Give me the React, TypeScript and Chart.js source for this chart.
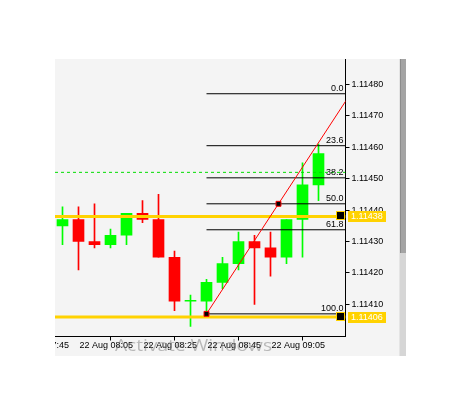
import React, { useEffect, useRef } from "react";
import { Chart, registerables } from "chart.js";

Chart.register(...registerables);

// ---- data ----
const candleIndex = [0, 1, 2, 3, 4, 5, 6, 7, 8, 9, 10, 11, 12, 13, 14, 15, 16];
const opens = [1.11435, 1.11437, 1.1143, 1.11429, 1.11432, 1.11439, 1.11437, 1.11425, 1.11411, 1.11411, 1.11417, 1.11423, 1.1143, 1.11428, 1.11425, 1.11437, 1.11448];
const highs = [1.11441, 1.11441, 1.11442, 1.11434, 1.11439, 1.11443, 1.11445, 1.11427, 1.11413, 1.11418, 1.11425, 1.11433, 1.11432, 1.11433, 1.11437, 1.11455, 1.11461];
const lows = [1.11429, 1.11421, 1.11428, 1.11428, 1.11429, 1.11436, 1.11425, 1.11408, 1.11403, 1.11407, 1.11415, 1.11421, 1.1141, 1.11419, 1.11423, 1.11425, 1.11443];
const closes = [1.11437, 1.1143, 1.11429, 1.11432, 1.11439, 1.11437, 1.11425, 1.11411, 1.11411, 1.11417, 1.11423, 1.1143, 1.11428, 1.11425, 1.11437, 1.11448, 1.11458];

const timeTickIndex = [-3, 1, 5, 9, 13];
const timeTickLabels = ["22 Aug 07:45", "22 Aug 08:05", "22 Aug 08:25", "22 Aug 08:45", "22 Aug 09:05"];
const priceTicks = [1.1141, 1.1142, 1.1143, 1.1144, 1.1145, 1.1146, 1.1147, 1.1148];

const fibLowIndex = 9;
const fibHighIndex = 18;
const fibLowPrice = 1.11407;
const fibHighPrice = 1.11477;
const fibLevels = [0.0, 23.6, 38.2, 50.0, 61.8, 100.0];

const yellowLevels = [1.11438, 1.11406];
const yellowLabels = ["1.11438", "1.11406"];
const greenDashedLevel = 1.11452;

// ---- layout constants ----
const X_MIN = -0.46875;
const X_MAX = 17.6875;
const Y_MIN = 1.113998;
const Y_MAX = 1.1148805;

const GREEN = "#00ff00";
const RED = "#ff0000";
const GOLD = "#ffd200";

export default function App() {
  const ref = useRef<HTMLCanvasElement | null>(null);

  useEffect(() => {
    document.body.style.margin = "0";
    const canvas = ref.current;
    if (!canvas) return;

    const colors = candleIndex.map((_, i) => (closes[i] >= opens[i] ? GREEN : RED));
    const fibPrice = (lvl: number) => fibHighPrice - (lvl / 100) * (fibHighPrice - fibLowPrice);

    const datasets: any[] = [];

    // horizontal objects (on top)
    yellowLevels.forEach((p) => {
      datasets.push({
        type: "line",
        data: [{ x: X_MIN, y: p }, { x: X_MAX, y: p }],
        borderColor: GOLD,
        borderWidth: 3,
        pointRadius: 0,
        clip: 0,
        order: 1,
      });
    });
    datasets.push({
      type: "line",
      data: [{ x: X_MIN, y: greenDashedLevel }, { x: X_MAX, y: greenDashedLevel }],
      borderColor: "#00dd00",
      borderWidth: 1,
      borderDash: [3, 3],
      pointRadius: 0,
      clip: 0,
      order: 1,
    });
    fibLevels.forEach((lvl) => {
      datasets.push({
        type: "line",
        data: [{ x: fibLowIndex, y: fibPrice(lvl) }, { x: fibHighIndex, y: fibPrice(lvl) }],
        borderColor: "#000000",
        borderWidth: 1,
        pointRadius: 0,
        clip: 0,
        order: 1,
      });
    });
    datasets.push({
      type: "line",
      data: [
        { x: fibLowIndex, y: fibLowPrice },
        { x: (fibLowIndex + fibHighIndex) / 2, y: (fibLowPrice + fibHighPrice) / 2 },
        { x: fibHighIndex, y: fibHighPrice },
      ],
      borderColor: RED,
      borderWidth: 1,
      pointRadius: [3.5, 3.5, 0],
      pointStyle: "rect",
      pointBackgroundColor: "#000000",
      pointBorderColor: RED,
      pointBorderWidth: 1,
      clip: 0,
      order: 0,
    });

    // candles
    datasets.push({
      type: "bar",
      data: candleIndex.map((x, i) => ({ x, y: [opens[i], closes[i]] })),
      backgroundColor: colors,
      borderWidth: 0,
      barThickness: 11,
      minBarLength: 1,
      grouped: false,
      order: 5,
    });
    datasets.push({
      type: "bar",
      data: candleIndex.map((x, i) => ({ x, y: [lows[i], highs[i]] })),
      backgroundColor: colors,
      borderWidth: 0,
      barThickness: 1,
      grouped: false,
      order: 6,
    });

    const bgPlugin = {
      id: "bg",
      beforeDraw(chart: any) {
        const ctx = chart.ctx;
        ctx.save();
        ctx.fillStyle = "#ffffff";
        ctx.fillRect(0, 0, chart.width, chart.height);
        ctx.fillStyle = "#f4f4f4";
        ctx.fillRect(55, 59, 344, 297);
        // scrollbar
        ctx.fillStyle = "#e4e4e4";
        ctx.fillRect(399, 59, 7, 297);
        ctx.fillStyle = "#a4a4a4";
        ctx.fillRect(400, 59, 6, 194);
        ctx.fillStyle = "#8c8c8c";
        ctx.fillRect(400, 59, 1, 194);
        ctx.fillStyle = "#d6d6d6";
        ctx.fillRect(400, 253, 6, 103);
        ctx.restore();
      },
    };

    const overlayPlugin = {
      id: "overlay",
      afterDraw(chart: any) {
        const ctx = chart.ctx;
        const area = chart.chartArea;
        const ys = chart.scales.y;
        ctx.save();
        // hide the part of the first time label that lies left of the plot
        ctx.fillStyle = "#ffffff";
        ctx.fillRect(0, area.bottom - 0.5, 55, 30);

        // fib labels
        ctx.fillStyle = "#000000";
        ctx.font = "9px 'Liberation Sans', Arial, sans-serif";
        ctx.textAlign = "right";
        ctx.textBaseline = "alphabetic";
        fibLevels.forEach((lvl) => {
          const y = ys.getPixelForValue(fibHighPrice - (lvl / 100) * (fibHighPrice - fibLowPrice));
          ctx.fillText(lvl.toFixed(1), area.right - 2, y - 3);
        });

        // price boxes for yellow lines
        yellowLevels.forEach((p, k) => {
          const y = Math.round(ys.getPixelForValue(p));
          ctx.fillStyle = GOLD;
          ctx.fillRect(336, y - 5, 9, 9);
          ctx.fillStyle = "#000000";
          ctx.fillRect(337, y - 4, 7, 7);
          ctx.fillStyle = GOLD;
          ctx.fillRect(348, y - 5, 38, 11);
          ctx.fillStyle = "#ffffff";
          ctx.textAlign = "left";
          ctx.textBaseline = "middle";
          ctx.fillText(yellowLabels[k], 351, y + 0.5);
        });

        // watermark
        ctx.fillStyle = "rgba(110,110,110,0.45)";
        ctx.font = "16px 'Open Sans', 'Noto Sans', sans-serif";
        ctx.textAlign = "left";
        ctx.textBaseline = "alphabetic";
        const wm = "Activate Windows";
        const w = ctx.measureText(wm).width;
        ctx.translate(115, 351);
        ctx.scale(157 / w, 1);
        ctx.fillText(wm, 0, 0);
        ctx.restore();
      },
    };

    const chart = new Chart(canvas, {
      type: "bar",
      data: { datasets },
      options: {
        responsive: false,
        maintainAspectRatio: false,
        animation: false,
        events: [],
        layout: { padding: { left: 55, top: 59, right: 69.5, bottom: 51.5 } },
        plugins: { legend: { display: false }, tooltip: { enabled: false } },
        scales: {
          x: {
            type: "linear",
            min: X_MIN,
            max: X_MAX,
            offset: false,
            afterFit(scale: any) {
              scale.height = 20;
            },
            afterBuildTicks(scale: any) {
              scale.ticks = timeTickIndex.map((v) => ({ value: v }));
            },
            grid: { display: true, drawOnChartArea: false, drawTicks: true, tickLength: 4, color: "#000000" },
            border: { display: true, color: "#000000", width: 1 },
            ticks: {
              autoSkip: false,
              maxRotation: 0,
              align: "start",
              labelOffset: 1,
              padding: 0,
              color: "#000000",
              font: { family: "'Liberation Sans', Arial, sans-serif", size: 9 },
              callback: (_v: any, idx: number) => timeTickLabels[idx],
            },
          },
          y: {
            type: "linear",
            position: "right",
            min: Y_MIN,
            max: Y_MAX,
            afterFit(scale: any) {
              scale.width = 54;
            },
            afterBuildTicks(scale: any) {
              scale.ticks = priceTicks.map((v) => ({ value: v }));
            },
            grid: { display: true, drawOnChartArea: false, drawTicks: true, tickLength: 4, color: "#000000" },
            border: { display: true, color: "#000000", width: 1 },
            ticks: {
              padding: 2,
              color: "#000000",
              font: { family: "'Liberation Sans', Arial, sans-serif", size: 9 },
              callback: (v: any) => Number(v).toFixed(5),
            },
          },
        },
      },
      plugins: [bgPlugin, overlayPlugin],
    } as any);

    return () => chart.destroy();
  }, []);

  return <canvas ref={ref} width={469} height={408} style={{ display: "block" }} />;
}
